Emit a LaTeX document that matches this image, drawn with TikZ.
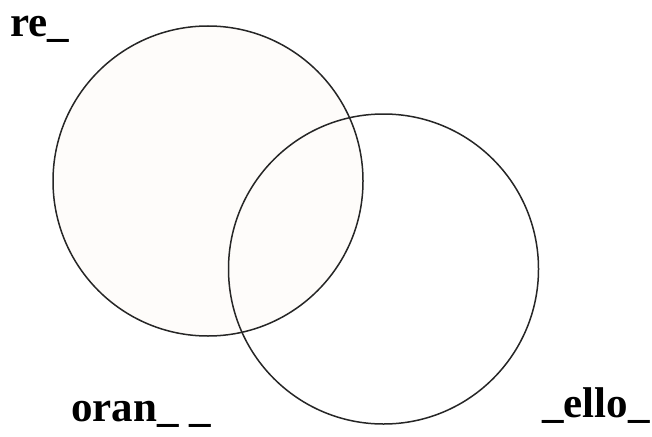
\documentclass[tikz,border=0pt]{standalone}
\usepackage{fontspec}
\setmainfont{Liberation Serif}
\definecolor{cream}{RGB}{254,252,250}
\begin{document}
\begin{tikzpicture}[x=1pt,y=-1pt,
                    ring/.style={circle,draw=black!85,line width=1.5pt,
                                 minimum size=310pt,inner sep=0pt},
                    word/.style={font=\bfseries\fontsize{43}{50}\selectfont,
                                 inner sep=0pt,anchor=base west}]
  \useasboundingbox (0,0) rectangle (652,436);
  \node[ring,fill=cream] (red) at (208,181) {};
  \node[ring] (yellow) at (383.5,269) {};
  \node[word] (lred) at (10,37) {re\_};
  \node[word] (lorange) at (71,421) {oran\_ \_};
  \node[word] (lyellow) at (542,417) {\_ello\_};
\end{tikzpicture}
\end{document}
